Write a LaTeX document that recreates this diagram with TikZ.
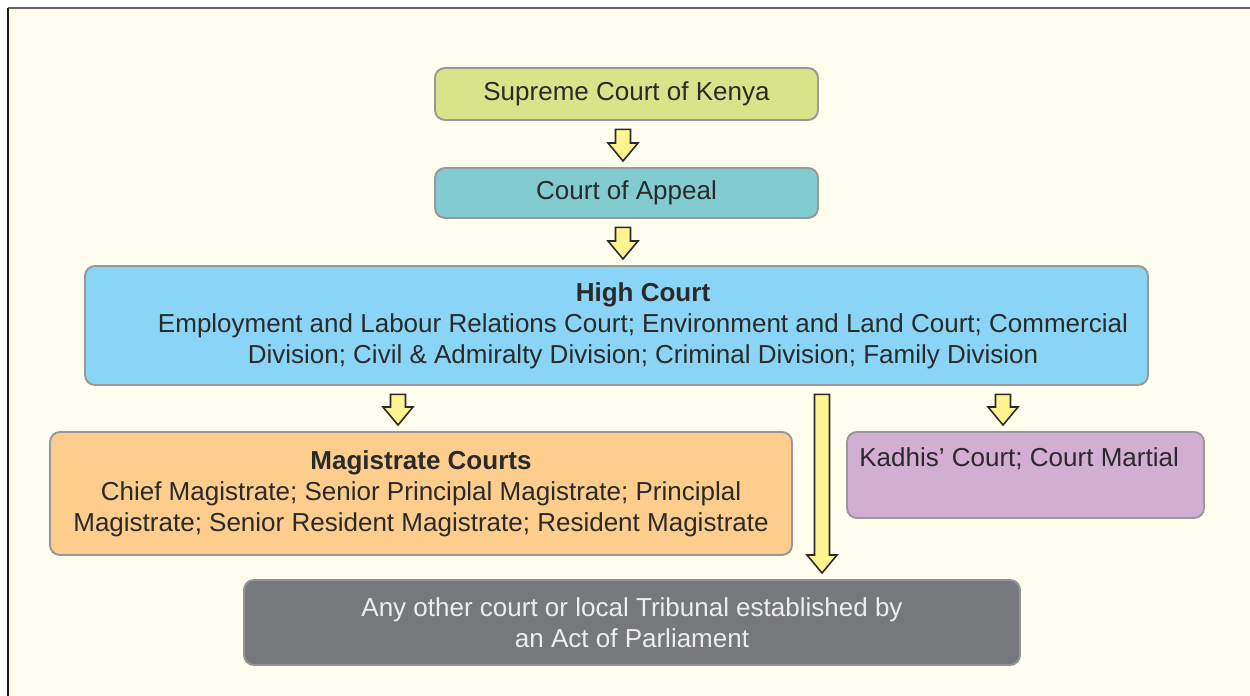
\documentclass[tikz,border=0pt]{standalone}
\usepackage{fontspec}
\setmainfont{Liberation Sans}
\usetikzlibrary{calc, positioning}

\definecolor{pagecol}{HTML}{FFFDEE}
\definecolor{supremecol}{HTML}{D9E48A}
\definecolor{appealcol}{HTML}{82CBD0}
\definecolor{highcol}{HTML}{8AD5F5}
\definecolor{magcol}{HTML}{FDCD8E}
\definecolor{kadhiscol}{HTML}{D2AED2}
\definecolor{tribcol}{HTML}{77787C}
\definecolor{arrowcol}{HTML}{FFF48F}
\definecolor{inkcol}{HTML}{2A2A2A}

\tikzset{
  courtbox/.style={draw=black!40, line width=1.1pt, rounded corners=0.2cm,
    align=center, text=inkcol, inner sep=0pt,
    font=\fontsize{14.8pt}{17.6pt}\selectfont},
  courttext/.style={align=center, text=inkcol, inner sep=0pt,
    font=\fontsize{14.8pt}{17.6pt}\selectfont},
  flowarrow/.style={draw=inkcol, fill=arrowcol, line width=0.9pt, line join=miter}
}

% block arrow from below #1 down to just above #2
\newcommand{\courtarrow}[2]{%
  \draw[flowarrow] ($(#1)+(-.15,-.17)$) -- ($(#2)+(-.15,.48)$) -- ($(#2)+(-.3,.48)$)
    -- ($(#2)+(0,.12)$) -- ($(#2)+(.3,.48)$) -- ($(#2)+(.15,.48)$)
    -- ($(#1)+(.15,-.17)$) -- cycle;}

\begin{document}
\begin{tikzpicture}
  \useasboundingbox (0,0) rectangle (25,13.92);
  \fill[white] (0,0) rectangle (25,13.92);
  \fill[pagecol] (0.16,0) rectangle (25,13.76);
  \draw[black!60, line width=1.6pt] (0.16,13.76) -- (25,13.76);
  \draw[black!90, line width=1.2pt] (0.16,0) -- (0.16,13.76);

  % Courts
  \node[courtbox, fill=supremecol, minimum width=7.66cm, minimum height=1.04cm]
    (supreme) at (12.53,12.04) {Supreme Court of Kenya};
  \node[courtbox, fill=appealcol, minimum width=7.66cm, minimum height=1.0cm]
    (appeal) at (12.53,10.06) {Court of Appeal};
  \node[courtbox, fill=highcol, minimum width=21.26cm, minimum height=2.38cm]
    (high) at (12.33,7.41) {};
  \node[courttext] (hightext) at (12.86,7.40) {\textbf{High Court}\\
    Employment and Labour Relations Court; Environment and Land Court; Commercial\\
    Division; Civil \& Admiralty Division; Criminal Division; Family Division};
  \node[courtbox, fill=magcol, minimum width=14.84cm, minimum height=2.46cm]
    (magistrate) at (8.42,4.05) {\textbf{Magistrate Courts}\\
    Chief Magistrate; Senior Principlal Magistrate; Principlal\\
    Magistrate; Senior Resident Magistrate; Resident Magistrate};
  \node[courtbox, fill=kadhiscol, minimum width=7.14cm, minimum height=1.72cm]
    (kadhis) at (20.51,4.42) {};
  \node[courttext, anchor=north west]
    (kadhistext) at ($(kadhis.north west)+(.26,-.32)$) {Kadhis’ Court; Court Martial};
  \node[courtbox, draw=tribcol!80, fill=tribcol, text=white!93!black,
    minimum width=15.52cm, minimum height=1.70cm]
    (tribunal) at (12.64,1.47) {Any other court or local Tribunal established by\\
    an Act of Parliament};

  % Arrow columns
  \coordinate (toparrow) at (12.46,0);
  \coordinate (magarrow) at (7.96,0);
  \coordinate (longarrow) at (16.44,0);
  \coordinate (kadarrow) at (20.06,0);

  % Edges
  \courtarrow{supreme.south -| toparrow}{appeal.north -| toparrow}
  \courtarrow{appeal.south -| toparrow}{high.north -| toparrow}
  \courtarrow{high.south -| magarrow}{magistrate.north -| magarrow}
  \courtarrow{high.south -| longarrow}{tribunal.north -| longarrow}
  \courtarrow{high.south -| kadarrow}{kadhis.north -| kadarrow}
\end{tikzpicture}
\end{document}
